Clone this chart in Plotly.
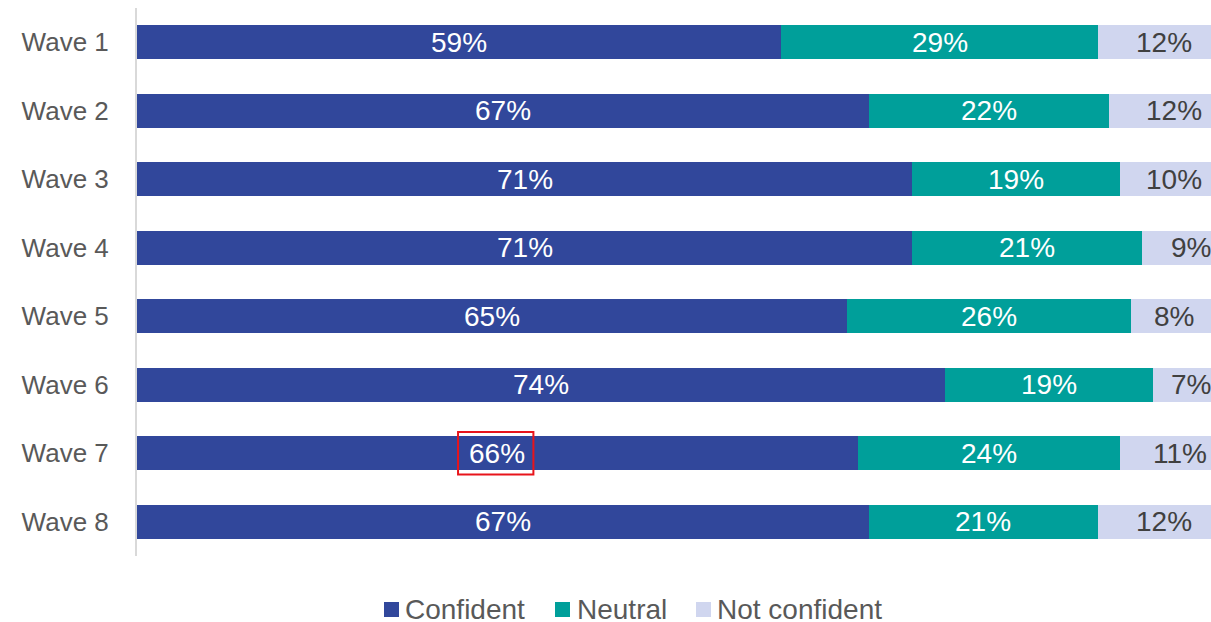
import plotly.graph_objects as go

waves = ["Wave 1", "Wave 2", "Wave 3", "Wave 4", "Wave 5", "Wave 6", "Wave 7", "Wave 8"]
confident = [59, 67, 71, 71, 65, 74, 66, 67]
neutral = [29, 22, 19, 21, 26, 19, 24, 21]
not_confident = [12, 12, 10, 9, 8, 7, 11, 12]

series = [
    ("Confident", confident, "#31479B", "white"),
    ("Neutral", neutral, "#009F9A", "white"),
    ("Not confident", not_confident, "#D0D6EF", "#404040"),
]

FONT = "Liberation Sans, Arial, sans-serif"
AXIS_GREY = "#595959"

# plot-area geometry (pixels)
W, H = 1211, 622
ML, MR, MT, MB = 137, 0, 8, 66
PW, PH = W - ML - MR, H - MT - MB


def px_x(p):
    return (p - ML) / PW


def px_y(p):
    return (H - MB - p) / PH


fig = go.Figure()
starts = [0] * len(waves)
annotations = []
for name, vals, color, tcolor in series:
    fig.add_trace(go.Bar(
        name=name,
        y=waves,
        x=vals,
        orientation="h",
        marker=dict(color=color, line=dict(width=0)),
        showlegend=False,
        hovertemplate="%{y}: %{x}%<extra>" + name + "</extra>",
    ))
    for i, v in enumerate(vals):
        annotations.append(dict(
            x=starts[i] + v / 2, y=waves[i], xref="x", yref="y",
            text=f"{v}%", showarrow=False,
            font=dict(family=FONT, size=28, color=tcolor),
        ))
        starts[i] += v

# legend drawn as squares + labels below the plot
legend_items = [
    ("Confident", "#31479B", 391.5, 405),
    ("Neutral", "#009F9A", 562.5, 577),
    ("Not confident", "#D0D6EF", 703.5, 717),
]
shapes = []
LEG_Y = 609.5
for label, color, cx, tx in legend_items:
    shapes.append(dict(
        type="rect", xref="paper", yref="paper",
        x0=px_x(cx - 7.5), x1=px_x(cx + 7.5),
        y0=px_y(LEG_Y + 7.5), y1=px_y(LEG_Y - 7.5),
        fillcolor=color, line=dict(width=0),
    ))
    annotations.append(dict(
        x=px_x(tx - 2), y=px_y(LEG_Y), xref="paper", yref="paper",
        xanchor="left", yanchor="middle", showarrow=False,
        text=label, font=dict(family=FONT, size=28, color=AXIS_GREY),
    ))

# highlight box around the Wave 7 "Confident" label
w7 = waves.index("Wave 7")
shapes.append(dict(
    type="rect", xref="x", yref="y",
    x0=confident[w7] / 2 - 3.6, x1=confident[w7] / 2 + 3.3,
    y0=w7 - 0.31, y1=w7 + 0.31,
    line=dict(color="#E8141B", width=2),
    fillcolor="rgba(0,0,0,0)",
))

fig.update_layout(
    barmode="stack",
    bargap=0.5,
    width=W,
    height=H,
    margin=dict(l=ML, r=MR, t=MT, b=MB),
    paper_bgcolor="white",
    plot_bgcolor="white",
    font=dict(family=FONT, size=26, color=AXIS_GREY),
    showlegend=False,
    annotations=annotations,
    shapes=shapes,
    xaxis=dict(
        range=[0, 98.35],
        visible=False,
        showgrid=False,
        zeroline=False,
    ),
    yaxis=dict(
        autorange="reversed",
        showline=True,
        linecolor="#D9D9D9",
        linewidth=2,
        ticks="",
        ticklabelstandoff=21,
        tickfont=dict(family=FONT, size=26, color=AXIS_GREY),
        showgrid=False,
    ),
)

fig.write_html("out.html")
